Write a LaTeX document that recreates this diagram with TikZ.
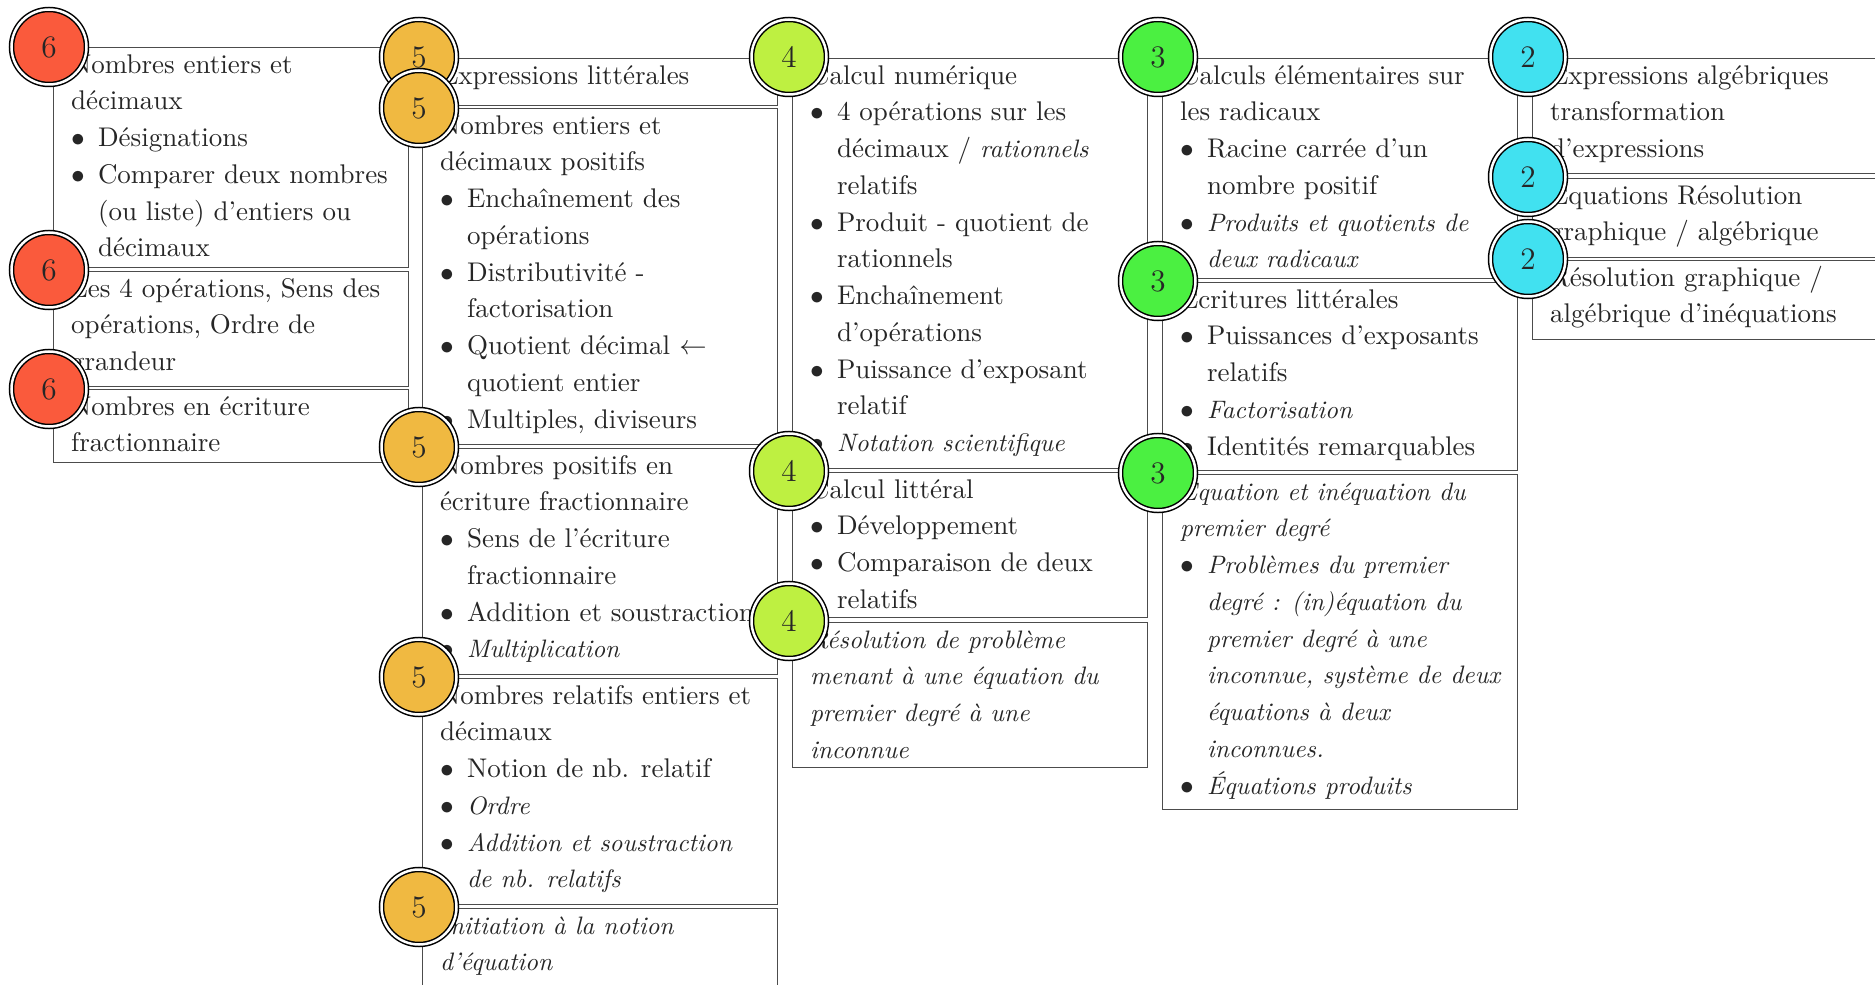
\documentclass[tikz,border=0pt]{standalone}
\usepackage{xcolor}
\definecolor{lvsix}{RGB}{250,90,60}
\definecolor{lvfive}{RGB}{240,185,65}
\definecolor{lvfour}{RGB}{190,240,65}
\definecolor{lvthree}{RGB}{75,240,65}
\definecolor{lvtwo}{RGB}{65,225,240}
% bullet label and hanging indent for list lines
\newcommand{\bl}{\makebox[10.8pt][l]{$\bullet$}}
\newcommand{\ind}{\hspace*{10.8pt}}
% italic run, set a little smaller so its width follows the upright text
\newcommand{\ita}[1]{{\fontsize{10.1}{14.7}\selectfont\itshape #1}}
% \topic{name}{left}{top}{bottom}
\newcommand{\topic}[4]{\node[topicbox, minimum height={(#4-#3)*0.4pt}] (#1) at (#2,#3) {};}

\begin{document}
\begin{tikzpicture}[x=0.4pt,y=-0.4pt,
  topicbox/.style={draw=black!70, line width=0.5pt, anchor=north west, inner sep=0pt, minimum width=142pt},
  txt/.style={anchor=north west, inner sep=0pt, align=left, text=black!85, font=\fontsize{10.8}{14.7}\selectfont},
  level/.style={circle, draw=black, line width=0.6pt, double=white, double distance=1pt,
    minimum size=30pt, inner sep=0pt, fill=#1, text=black!85, font=\fontsize{12.5}{14}\selectfont}
]
\useasboundingbox (0,0) rectangle (1875,985);
\clip (0,0) rectangle (1875,985);

% ---- boxes ----
\topic{a1}{53}{47}{267}
\topic{a2}{53}{271}{386}
\topic{a3}{53}{389}{462}

\topic{b1}{422}{58}{105}
\topic{b2}{422}{108}{444}
\topic{b3}{422}{448}{674}
\topic{b4}{422}{678}{904}
\topic{b5}{422}{908}{1100}

\topic{c1}{792}{58}{468}
\topic{c2}{792}{472}{617}
\topic{c3}{792}{622}{767}

\topic{d1}{1162}{58}{278}
\topic{d2}{1162}{282}{470}
\topic{d3}{1162}{474}{809}

\topic{e1}{1532}{58}{173}
\topic{e2}{1532}{178}{257}
\topic{e3}{1532}{260}{339}

% ---- texts ----
\node[txt] (ta1) at (70.5,47) {\strut Nombres entiers et\\ décimaux\\ \bl Désignations\\ \bl Comparer deux nombres\\ \ind (ou liste) d’entiers ou\\ \ind décimaux};
\node[txt] (ta2) at (70.5,271) {\strut Les 4 opérations, Sens des\\ opérations, Ordre de\\ grandeur};
\node[txt] (ta3) at (70.5,389) {\strut Nombres en écriture\\ fractionnaire};

\node[txt] (tb1) at (439.5,58) {\strut Expressions littérales};
\node[txt] (tb2) at (439.5,108) {\strut Nombres entiers et\\ décimaux positifs\\ \bl Enchaînement des\\ \ind opérations\\ \bl Distributivité -\\ \ind factorisation\\ \bl Quotient décimal $\leftarrow$\\ \ind quotient entier\\ \bl Multiples, diviseurs};
\node[txt] (tb3) at (439.5,448) {\strut Nombres positifs en\\ écriture fractionnaire\\ \bl Sens de l’écriture\\ \ind fractionnaire\\ \bl Addition et soustraction\\ \bl \ita{Multiplication}};
\node[txt] (tb4) at (439.5,678) {\strut Nombres relatifs entiers et\\ décimaux\\ \bl Notion de nb. relatif\\ \bl \ita{Ordre}\\ \bl \ita{Addition et soustraction}\\ \ind \ita{de nb. relatifs}};
\node[txt] (tb5) at (439.5,908) {\strut\ita{Initiation à la notion}\\ \ita{d’équation}};

\node[txt] (tc1) at (809.5,58) {\strut Calcul numérique\\ \bl 4 opérations sur les\\ \ind décimaux / \ita{rationnels}\\ \ind relatifs\\ \bl Produit - quotient de\\ \ind rationnels\\ \bl Enchaînement\\ \ind d’opérations\\ \bl Puissance d’exposant\\ \ind relatif\\ \bl \ita{Notation scientifique}};
\node[txt] (tc2) at (809.5,472) {\strut Calcul littéral\\ \bl Développement\\ \bl Comparaison de deux\\ \ind relatifs};
\node[txt] (tc3) at (809.5,622) {\strut\ita{Résolution de problème}\\ \ita{menant à une équation du}\\ \ita{premier degré à une}\\ \ita{inconnue}};

\node[txt] (td1) at (1179.5,58) {\strut Calculs élémentaires sur\\ les radicaux\\ \bl Racine carrée d’un\\ \ind nombre positif\\ \bl \ita{Produits et quotients de}\\ \ind \ita{deux radicaux}};
\node[txt] (td2) at (1179.5,282) {\strut Écritures littérales\\ \bl Puissances d’exposants\\ \ind relatifs\\ \bl \ita{Factorisation}\\ \bl Identités remarquables};
\node[txt] (td3) at (1179.5,474) {\strut\ita{Équation et inéquation du}\\ \ita{premier degré}\\ \bl \ita{Problèmes du premier}\\ \ind \ita{degré : (in)équation du}\\ \ind \ita{premier degré à une}\\ \ind \ita{inconnue, système de deux}\\ \ind \ita{équations à deux}\\ \ind \ita{inconnues.}\\ \bl \ita{Équations produits}};

\node[txt] (te1) at (1549.5,58) {\strut Expressions algébriques\\ transformation\\ d’expressions};
\node[txt] (te2) at (1549.5,178) {\strut Équations Résolution\\ graphique / algébrique};
\node[txt] (te3) at (1549.5,260) {\strut Résolution graphique /\\ algébrique d’inéquations};

% ---- level markers ----
\node[level=lvsix] (ma1) at (49,47) {6};
\node[level=lvsix] (ma2) at (49,270) {6};
\node[level=lvsix] (ma3) at (49,389) {6};

\node[level=lvfive] (mb1) at (419,57) {5};
\node[level=lvfive] (mb2) at (419,108) {5};
\node[level=lvfive] (mb3) at (419,447) {5};
\node[level=lvfive] (mb4) at (419,677) {5};
\node[level=lvfive] (mb5) at (419,907) {5};

\node[level=lvfour] (mc1) at (789,57) {4};
\node[level=lvfour] (mc2) at (789,471) {4};
\node[level=lvfour] (mc3) at (789,621) {4};

\node[level=lvthree] (md1) at (1158,57) {3};
\node[level=lvthree] (md2) at (1158,281) {3};
\node[level=lvthree] (md3) at (1158,473) {3};

\node[level=lvtwo] (me1) at (1528,57) {2};
\node[level=lvtwo] (me2) at (1528,177) {2};
\node[level=lvtwo] (me3) at (1528,259) {2};
\end{tikzpicture}
\end{document}
